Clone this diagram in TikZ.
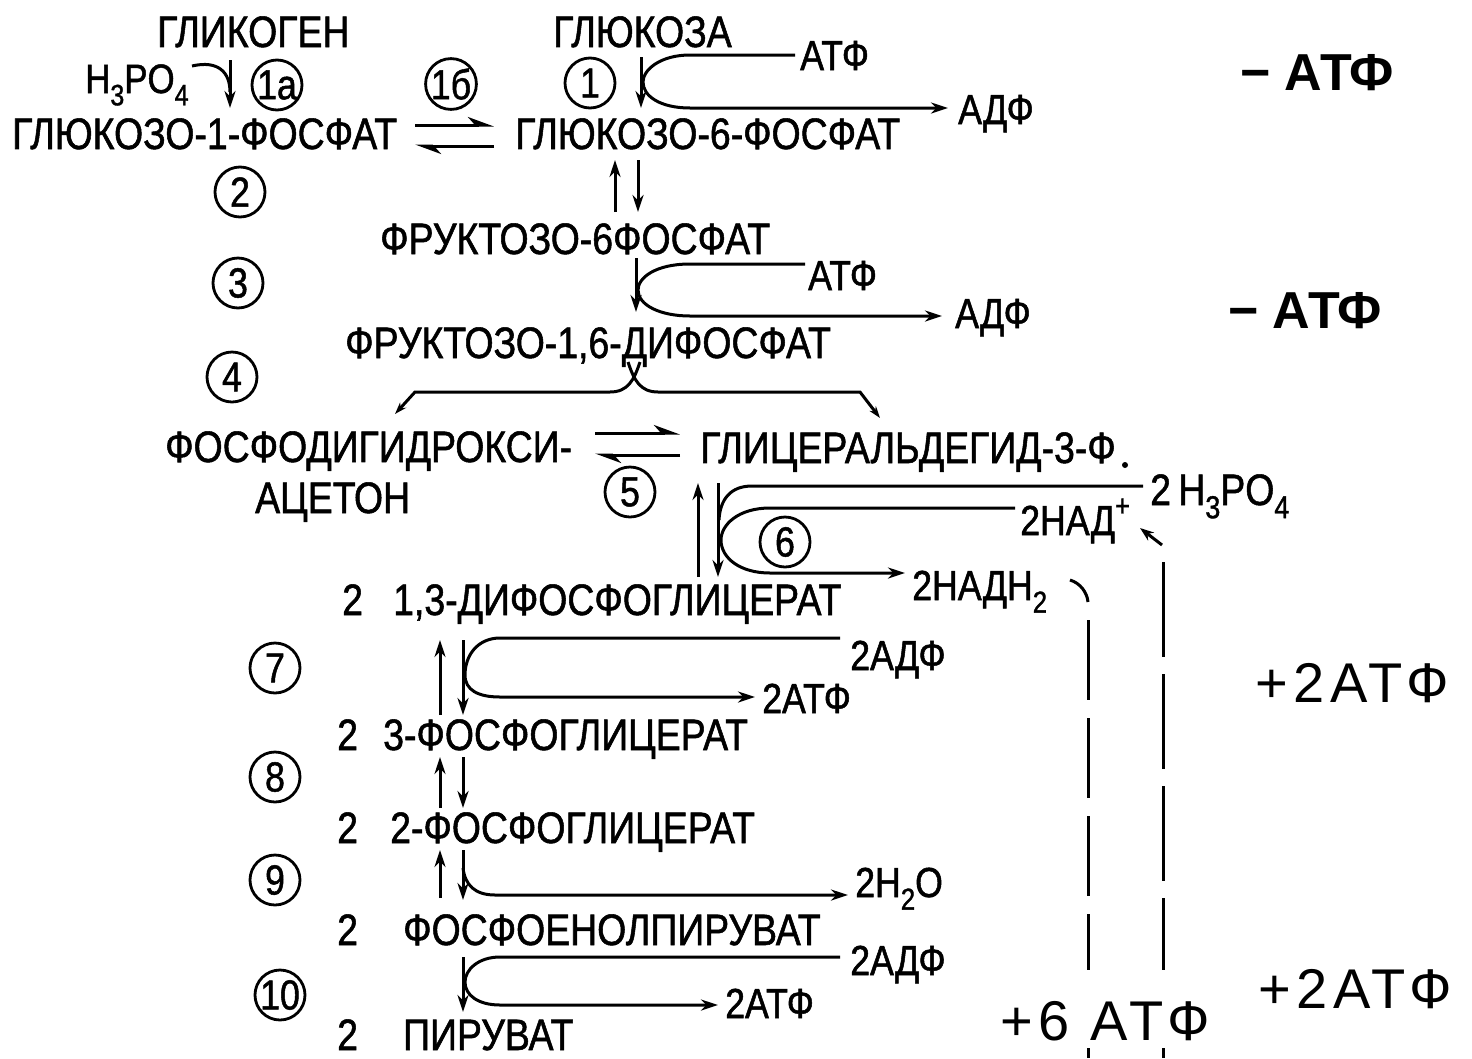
\documentclass[tikz,border=0pt]{standalone}
\usepackage{fontspec}
\setmainfont{Liberation Sans}
\newfontfamily\nar[FakeStretch=0.85,FakeBold=1.2]{Liberation Sans}
\newfontfamily\wid[LetterSpace=10]{Liberation Sans}
\usetikzlibrary{arrows.meta}
\newcommand\sbs[1]{\raisebox{-0.3em}{\scalebox{0.72}{#1}}}
\newcommand\sps[1]{\raisebox{0.45em}{\scalebox{0.72}{#1}}}
\tikzset{
  lbl/.style={font=\nar\fontsize{44}{48}\selectfont, inner sep=0pt, anchor=base west},
  sml/.style={font=\nar\fontsize{42}{46}\selectfont, inner sep=0pt, anchor=base west},
  bigl/.style={font=\wid\fontsize{56}{60}\selectfont, inner sep=0pt, anchor=base west},
  bigb/.style={font=\bfseries\fontsize{52}{56}\selectfont, inner sep=0pt, anchor=base west},
  num/.style={circle, draw, line width=2.8pt, minimum size=50pt, inner sep=0pt, font=\nar\fontsize{42}{44}\selectfont},
  ln/.style={line width=3pt},
  arr/.style={ln, -{Stealth[length=17pt,width=11pt]}},
  harp/.style={ln, -{Stealth[harpoon,length=22pt,width=16pt]}},
  dsh/.style={ln, dash pattern=on 80pt off 18pt},
}
\begin{document}
\begin{tikzpicture}[x=1pt,y=-1pt]
\fill[white] (0,0) rectangle (1472,1058);
\useasboundingbox (0,0) rectangle (1472,1058);

% ---- top
\node[lbl] (glycogen) at (157,47) {ГЛИКОГЕН};
\node[lbl] (glucose) at (553,47) {ГЛЮКОЗА};
\node[lbl, font=\nar\fontsize{41}{44}\selectfont] (hpa) at (85,93) {H\sbs{3}PO\sbs{4}};
\node[num] (c1a) at (277,85) {1а};
\node[num] (c1b) at (451,84) {1б};
\node[num] (c1) at (590,83) {1};
\node[lbl] (g1p) at (12,149) {ГЛЮКОЗО-1-ФОСФАТ};
\node[lbl] (g6p) at (515,149) {ГЛЮКОЗО-6-ФОСФАТ};
\node[sml] (atp1) at (800,70) {АТФ};
\node[sml] (adp1) at (958,124) {АДФ};
\node[bigb] (m1) at (1240,90) {− АТФ};

\coordinate (a1s) at (230,60); \coordinate (a1e) at (230,108);
\draw[arr] (a1s) -- (a1e);
\coordinate (hpe) at (192,66);
\draw[ln] (hpe) .. controls (218,60) and (230,72) .. (230,92);
\coordinate (e1a) at (415,125); \coordinate (e1b) at (494,125);
\coordinate (e1c) at (494,146); \coordinate (e1d) at (415,146);
\draw[harp] (e1a) -- (e1b);
\draw[harp] (e1c) -- (e1d);

\coordinate (gs) at (641,57); \coordinate (ge) at (641,108);
\draw[arr] (gs) -- (ge);
\coordinate (l1a) at (795,55); \coordinate (l1b) at (948,108);
\draw[arr] (l1a) -- (690,55) .. controls (660,55) and (643,70) .. (643,82)
  .. controls (643,96) and (660,108) .. (690,108) -- (l1b);

\coordinate (u1s) at (615,212); \coordinate (u1e) at (615,160);
\coordinate (d1s) at (638,160); \coordinate (d1e) at (638,212);
\draw[arr] (u1s) -- (u1e);
\draw[arr] (d1s) -- (d1e);
\node[num] (c2) at (240,192) {2};

% ---- fructose
\node[lbl] (f6p) at (380,254) {ФРУКТОЗО-6ФОСФАТ};
\node[num] (c3) at (238,283) {3};
\node[sml] (atp2) at (808,290) {АТФ};
\node[sml] (adp2) at (955,328) {АДФ};
\node[bigb] (m2) at (1228,328) {− АТФ};
\coordinate (v2s) at (636,258); \coordinate (v2e) at (636,312);
\draw[arr] (v2s) -- (v2e);
\coordinate (l2a) at (805,264); \coordinate (l2b) at (942,316);
\draw[arr] (l2a) -- (690,264) .. controls (655,264) and (638,278) .. (638,290)
  .. controls (638,305) and (660,316) .. (690,316) -- (l2b);

\node[lbl] (f16) at (345,358) {ФРУКТОЗО-1,6-ДИФОСФАТ};
\node[num] (c4) at (232,377) {4};
\coordinate (bl) at (640,362); \coordinate (br) at (628,362);
\coordinate (ble) at (395,414); \coordinate (bre) at (880,418);
\draw[ln, -{Stealth[length=12pt,width=8pt]}] (bl) .. controls (634,380) and (628,392) .. (610,392) -- (415,392) -- (ble);
\draw[ln, -{Stealth[length=12pt,width=8pt]}] (br) .. controls (634,380) and (640,392) .. (658,392) -- (860,392) -- (bre);

% ---- trioses
\node[lbl] (dhap1) at (165,462) {ФОСФОДИГИДРОКСИ-};
\node[lbl] (dhap2) at (255,513) {АЦЕТОН};
\node[lbl] (gap) at (700,463) {ГЛИЦЕРАЛЬДЕГИД-3-Ф};
\node[circle, fill, inner sep=0pt, minimum size=6pt] (dot) at (1125,465) {};
\node[num] (c5) at (630,492) {5};
\coordinate (e5a) at (595,433); \coordinate (e5b) at (680,433);
\coordinate (e5c) at (680,455); \coordinate (e5d) at (595,455);
\draw[harp] (e5a) -- (e5b);
\draw[harp] (e5c) -- (e5d);

\node[lbl] (hpb) at (1150,505) {2\,H\sbs{3}PO\sbs{4}};
\node[sml] (nad) at (1020,535) {2НАД\sps{+}};
\node[sml] (nadh) at (912,600) {2НАДН\sbs{2}};
\node[num] (c6) at (785,542) {6};
\coordinate (u6s) at (698,577); \coordinate (u6e) at (698,483);
\coordinate (d6s) at (718,483); \coordinate (d6e) at (718,577);
\draw[arr] (u6s) -- (u6e);
\draw[arr] (d6s) -- (d6e);
\coordinate (o6a) at (1143,486);
\draw[ln] (o6a) -- (752,486) .. controls (730,486) and (720,500) .. (719,520);
\coordinate (i6a) at (1015,508); \coordinate (i6b) at (905,573);
\draw[arr] (i6a) -- (770,508) .. controls (738,508) and (721,525) .. (721,540)
  .. controls (721,558) and (740,573) .. (770,573) -- (i6b);
\coordinate (hk1) at (1070,580); \coordinate (hk2) at (1088,602);
\draw[ln] (hk1) .. controls (1080,583) and (1087,592) .. (hk2);
\coordinate (dA1) at (1088,620); \coordinate (dA2) at (1088,970);
\coordinate (dB1) at (1163,562); \coordinate (dB2) at (1163,970);
\draw[dsh] (dA1) -- (dA2);
\draw[ln, dash pattern=on 95pt off 17pt] (dB1) -- (dB2);
\draw[ln] (1088,1048) -- (1088,1058);
\draw[ln] (1163,1048) -- (1163,1058);
\coordinate (sq1) at (1162,545); \coordinate (sq2) at (1140,528);
\draw[ln, -{Stealth[length=14pt,width=10pt]}] (sq1) -- (sq2);

\node[bigl] (p2a) at (1255,702) {+2АТФ};
\node[bigl] (p6) at (1000,1040) {+6 АТФ};
\node[bigl] (p2b) at (1258,1008) {+2АТФ};

% ---- lower part
\node[lbl] (two1) at (342,615) {2};
\node[lbl] (bpg) at (393,615) {1,3-ДИФОСФОГЛИЦЕРАТ};
\node[num] (c7) at (275,668) {7};
\coordinate (u7s) at (440,715); \coordinate (u7e) at (440,640);
\coordinate (d7s) at (463,640); \coordinate (d7e) at (463,715);
\draw[arr] (u7s) -- (u7e);
\draw[arr] (d7s) -- (d7e);
\coordinate (l7a) at (840,638); \coordinate (l7b) at (755,697);
\draw[arr] (l7a) -- (500,638) .. controls (478,638) and (465,655) .. (465,675)
  .. controls (465,690) and (478,697) .. (500,697) -- (l7b);
\node[sml] (adp7) at (850,670) {2АДФ};
\node[sml] (atp7) at (762,713) {2АТФ};

\node[lbl] (two2) at (337,750) {2};
\node[lbl] (pg3) at (383,750) {3-ФОСФОГЛИЦЕРАТ};
\node[num] (c8) at (275,777) {8};
\coordinate (u8s) at (440,808); \coordinate (u8e) at (440,757);
\coordinate (d8s) at (463,757); \coordinate (d8e) at (463,808);
\draw[arr] (u8s) -- (u8e);
\draw[arr] (d8s) -- (d8e);

\node[lbl] (two3) at (337,843) {2};
\node[lbl] (pg2) at (390,843) {2-ФОСФОГЛИЦЕРАТ};
\node[num] (c9) at (275,880) {9};
\coordinate (u9s) at (440,898); \coordinate (u9e) at (440,850);
\coordinate (d9s) at (463,850); \coordinate (d9e) at (463,900);
\draw[arr] (u9s) -- (u9e);
\draw[arr] (d9s) -- (d9e);
\coordinate (l9a) at (463,868); \coordinate (l9b) at (848,895);
\draw[arr] (l9a) .. controls (465,885) and (475,895) .. (495,895) -- (l9b);
\node[sml] (h2o) at (855,897) {2H\sbs{2}O};

\node[lbl] (two4) at (337,945) {2};
\node[lbl] (pep) at (403,945) {ФОСФОЕНОЛПИРУВАТ};
\node[num] (c10) at (280,995) {10};
\coordinate (v10s) at (463,957); \coordinate (v10e) at (463,1012);
\draw[arr] (v10s) -- (v10e);
\coordinate (l10a) at (840,957); \coordinate (l10b) at (718,1005);
\draw[arr] (l10a) -- (500,957) .. controls (478,957) and (465,970) .. (465,982)
  .. controls (465,995) and (478,1005) .. (500,1005) -- (l10b);
\node[sml] (adp10) at (850,975) {2АДФ};
\node[sml] (atp10) at (725,1018) {2АТФ};

\node[lbl] (two5) at (337,1050) {2};
\node[lbl] (pyr) at (403,1050) {ПИРУВАТ};
\end{tikzpicture}
\end{document}
